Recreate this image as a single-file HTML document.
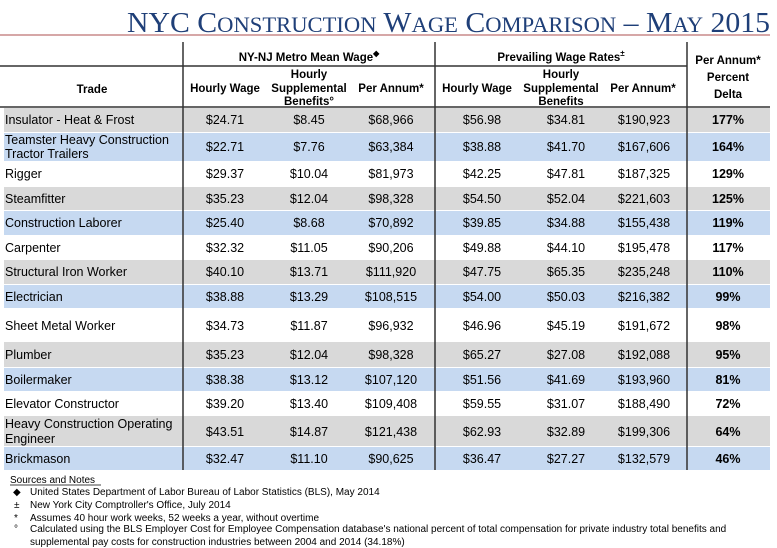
<!DOCTYPE html>
<html><head><meta charset="utf-8"><style>
html,body{margin:0;padding:0;background:#fff;width:777px;height:548px;overflow:hidden}
svg{display:block}
.h{font-family:"Liberation Sans",Arial,sans-serif;font-weight:bold;font-size:11.5px;fill:#000;text-anchor:middle}
.d{font-family:"Liberation Sans",Arial,sans-serif;font-size:12.5px;fill:#000;text-anchor:middle}
.t{font-family:"Liberation Sans",Arial,sans-serif;font-size:12.5px;fill:#000}
.p{font-family:"Liberation Sans",Arial,sans-serif;font-size:12.5px;font-weight:bold;fill:#000;text-anchor:middle}
.n{font-family:"Liberation Sans",Arial,sans-serif;font-size:10px;fill:#000}
</style></head><body>
<svg width="777" height="548" viewBox="0 0 777 548" xmlns="http://www.w3.org/2000/svg">
<text x="127" y="32" textLength="643" lengthAdjust="spacingAndGlyphs" font-family="Liberation Serif,serif" fill="#1f3f78" font-size="29">NYC C<tspan font-size="22">ONSTRUCTION</tspan> W<tspan font-size="22">AGE</tspan> C<tspan font-size="22">OMPARISON</tspan> – M<tspan font-size="22">AY</tspan> 2015</text>
<line x1="0" y1="35" x2="770" y2="35" stroke="#c98a8a" stroke-width="1.5"/>
<rect x="4" y="108" width="766" height="24" fill="#d9d9d9"/>
<rect x="4" y="133" width="766" height="28" fill="#c6d9f1"/>
<rect x="4" y="187" width="766" height="23" fill="#d9d9d9"/>
<rect x="4" y="211" width="766" height="24" fill="#c6d9f1"/>
<rect x="4" y="260" width="766" height="24" fill="#d9d9d9"/>
<rect x="4" y="285" width="766" height="23" fill="#c6d9f1"/>
<rect x="4" y="342" width="766" height="25" fill="#d9d9d9"/>
<rect x="4" y="368" width="766" height="23" fill="#c6d9f1"/>
<rect x="4" y="416" width="766" height="30" fill="#d9d9d9"/>
<rect x="4" y="447" width="766" height="23" fill="#c6d9f1"/>
<g stroke="#333" stroke-width="1.5">
<line x1="0" y1="66" x2="687" y2="66"/>
<line x1="0" y1="107" x2="770" y2="107"/>
<line x1="183" y1="42" x2="183" y2="470"/>
<line x1="435" y1="42" x2="435" y2="470"/>
<line x1="687" y1="42" x2="687" y2="470"/>
</g>
<text class="h" x="309" y="61" font-size="13">NY-NJ Metro Mean Wage<tspan font-size="8" dy="-5">◆</tspan></text>
<text class="h" x="561" y="61" font-size="13">Prevailing Wage Rates<tspan font-size="8" dy="-5">±</tspan></text>
<text class="h" x="728" y="64" font-size="13">Per Annum*</text>
<text class="h" x="728" y="81" font-size="14">Percent</text>
<text class="h" x="728" y="98" font-size="14">Delta</text>
<text class="h" x="92" y="93" font-size="14">Trade</text>
<text class="h" x="225" y="92">Hourly Wage</text>
<text class="h" x="309" y="78">Hourly</text>
<text class="h" x="309" y="92">Supplemental</text>
<text class="h" x="309" y="105">Benefits°</text>
<text class="h" x="391" y="92">Per Annum*</text>
<text class="h" x="477" y="92">Hourly Wage</text>
<text class="h" x="561" y="78">Hourly</text>
<text class="h" x="561" y="92">Supplemental</text>
<text class="h" x="561" y="105">Benefits</text>
<text class="h" x="643" y="92">Per Annum*</text>
<g>
<text class="t" x="5" y="124">Insulator - Heat &amp; Frost</text>
<text class="d" x="225" y="124">$24.71</text><text class="d" x="309" y="124">$8.45</text><text class="d" x="391" y="124">$68,966</text><text class="d" x="482" y="124">$56.98</text><text class="d" x="566" y="124">$34.81</text><text class="d" x="644" y="124">$190,923</text><text class="p" x="728" y="124">177%</text>
<text class="t" x="5" y="144">Teamster Heavy Construction</text><text class="t" x="5" y="158">Tractor Trailers</text>
<text class="d" x="225" y="151">$22.71</text><text class="d" x="309" y="151">$7.76</text><text class="d" x="391" y="151">$63,384</text><text class="d" x="482" y="151">$38.88</text><text class="d" x="566" y="151">$41.70</text><text class="d" x="644" y="151">$167,606</text><text class="p" x="728" y="151">164%</text>
<text class="t" x="5" y="178">Rigger</text>
<text class="d" x="225" y="178">$29.37</text><text class="d" x="309" y="178">$10.04</text><text class="d" x="391" y="178">$81,973</text><text class="d" x="482" y="178">$42.25</text><text class="d" x="566" y="178">$47.81</text><text class="d" x="644" y="178">$187,325</text><text class="p" x="728" y="178">129%</text>
<text class="t" x="5" y="203">Steamfitter</text>
<text class="d" x="225" y="203">$35.23</text><text class="d" x="309" y="203">$12.04</text><text class="d" x="391" y="203">$98,328</text><text class="d" x="482" y="203">$54.50</text><text class="d" x="566" y="203">$52.04</text><text class="d" x="644" y="203">$221,603</text><text class="p" x="728" y="203">125%</text>
<text class="t" x="5" y="227">Construction Laborer</text>
<text class="d" x="225" y="227">$25.40</text><text class="d" x="309" y="227">$8.68</text><text class="d" x="391" y="227">$70,892</text><text class="d" x="482" y="227">$39.85</text><text class="d" x="566" y="227">$34.88</text><text class="d" x="644" y="227">$155,438</text><text class="p" x="728" y="227">119%</text>
<text class="t" x="5" y="252">Carpenter</text>
<text class="d" x="225" y="252">$32.32</text><text class="d" x="309" y="252">$11.05</text><text class="d" x="391" y="252">$90,206</text><text class="d" x="482" y="252">$49.88</text><text class="d" x="566" y="252">$44.10</text><text class="d" x="644" y="252">$195,478</text><text class="p" x="728" y="252">117%</text>
<text class="t" x="5" y="276">Structural Iron Worker</text>
<text class="d" x="225" y="276">$40.10</text><text class="d" x="309" y="276">$13.71</text><text class="d" x="391" y="276">$111,920</text><text class="d" x="482" y="276">$47.75</text><text class="d" x="566" y="276">$65.35</text><text class="d" x="644" y="276">$235,248</text><text class="p" x="728" y="276">110%</text>
<text class="t" x="5" y="301">Electrician</text>
<text class="d" x="225" y="301">$38.88</text><text class="d" x="309" y="301">$13.29</text><text class="d" x="391" y="301">$108,515</text><text class="d" x="482" y="301">$54.00</text><text class="d" x="566" y="301">$50.03</text><text class="d" x="644" y="301">$216,382</text><text class="p" x="728" y="301">99%</text>
<text class="t" x="5" y="330">Sheet Metal Worker</text>
<text class="d" x="225" y="330">$34.73</text><text class="d" x="309" y="330">$11.87</text><text class="d" x="391" y="330">$96,932</text><text class="d" x="482" y="330">$46.96</text><text class="d" x="566" y="330">$45.19</text><text class="d" x="644" y="330">$191,672</text><text class="p" x="728" y="330">98%</text>
<text class="t" x="5" y="359">Plumber</text>
<text class="d" x="225" y="359">$35.23</text><text class="d" x="309" y="359">$12.04</text><text class="d" x="391" y="359">$98,328</text><text class="d" x="482" y="359">$65.27</text><text class="d" x="566" y="359">$27.08</text><text class="d" x="644" y="359">$192,088</text><text class="p" x="728" y="359">95%</text>
<text class="t" x="5" y="384">Boilermaker</text>
<text class="d" x="225" y="384">$38.38</text><text class="d" x="309" y="384">$13.12</text><text class="d" x="391" y="384">$107,120</text><text class="d" x="482" y="384">$51.56</text><text class="d" x="566" y="384">$41.69</text><text class="d" x="644" y="384">$193,960</text><text class="p" x="728" y="384">81%</text>
<text class="t" x="5" y="408">Elevator Constructor</text>
<text class="d" x="225" y="408">$39.20</text><text class="d" x="309" y="408">$13.40</text><text class="d" x="391" y="408">$109,408</text><text class="d" x="482" y="408">$59.55</text><text class="d" x="566" y="408">$31.07</text><text class="d" x="644" y="408">$188,490</text><text class="p" x="728" y="408">72%</text>
<text class="t" x="5" y="428">Heavy Construction Operating</text><text class="t" x="5" y="443">Engineer</text>
<text class="d" x="225" y="436">$43.51</text><text class="d" x="309" y="436">$14.87</text><text class="d" x="391" y="436">$121,438</text><text class="d" x="482" y="436">$62.93</text><text class="d" x="566" y="436">$32.89</text><text class="d" x="644" y="436">$199,306</text><text class="p" x="728" y="436">64%</text>
<text class="t" x="5" y="463">Brickmason</text>
<text class="d" x="225" y="463">$32.47</text><text class="d" x="309" y="463">$11.10</text><text class="d" x="391" y="463">$90,625</text><text class="d" x="482" y="463">$36.47</text><text class="d" x="566" y="463">$27.27</text><text class="d" x="644" y="463">$132,579</text><text class="p" x="728" y="463">46%</text>
</g>
<text class="n" x="10" y="483">Sources and Notes</text>
<line x1="10" y1="485" x2="101" y2="485" stroke="#000" stroke-width="0.7"/>
<text class="n" x="13" y="495" font-size="8">◆</text>
<text class="n" x="30" y="495">United States Department of Labor Bureau of Labor Statistics (BLS), May 2014</text>
<text class="n" x="14" y="508" font-size="8">±</text>
<text class="n" x="30" y="508">New York City Comptroller's Office, July 2014</text>
<text class="n" x="14" y="521">*</text>
<text class="n" x="30" y="521">Assumes 40 hour work weeks, 52 weeks a year, without overtime</text>
<text class="n" x="14" y="532" font-size="8">°</text>
<text class="n" x="30" y="532">Calculated using the BLS Employer Cost for Employee Compensation database's national percent of total compensation for private industry total benefits and</text>
<text class="n" x="30" y="545">supplemental pay costs for construction industries between 2004 and 2014 (34.18%)</text>
</svg>
</body></html>
